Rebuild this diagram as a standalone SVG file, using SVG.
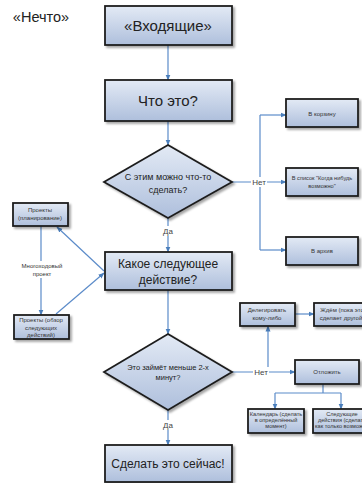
<svg xmlns="http://www.w3.org/2000/svg" width="362" height="483" viewBox="0 0 362 483">
<defs>
<linearGradient id="g" x1="0" y1="0" x2="0" y2="1">
<stop offset="0" stop-color="#e3eaf5"/>
<stop offset="1" stop-color="#aebfdc"/>
</linearGradient>
<filter id="sh" x="-10%" y="-10%" width="130%" height="140%">
<feDropShadow dx="2" dy="2" stdDeviation="1.2" flood-color="#000" flood-opacity="0.35"/>
</filter>
<marker id="ar" markerWidth="6" markerHeight="6" refX="5.5" refY="3" orient="auto" markerUnits="userSpaceOnUse">
<path d="M0,0.5 L6,3 L0,5.5 Z" fill="#4a7ebb"/>
</marker>
<style>
.box{fill:url(#g);stroke:#1e1e1e;stroke-width:1.8;filter:url(#sh)}
.c{fill:none;stroke:#5b8bc9;stroke-width:1.2}
.a{marker-end:url(#ar)}
text{font-family:"Liberation Sans",Arial,sans-serif;text-anchor:middle;fill:#222}
.big{font-size:15px}
.mid{font-size:12px}
.s{font-size:6px;fill:#333}
.xs{font-size:5.6px;fill:#333}
.lbl{font-size:8px;fill:#444}
.bg{fill:#fff}
</style>
</defs>
<rect width="362" height="483" fill="#fff"/>
<text x="41" y="22" style="font-size:14.5px;text-anchor:middle">«Нечто»</text>

<g id="connectors">
<path class="c a" d="M168,45 V80"/>
<path class="c a" d="M168,121 V145"/>
<path class="c a" d="M168,218 V252"/>
<path class="c a" d="M232,182 H286"/>
<path class="c" d="M260,115 V250"/>
<path class="c a" d="M260,115 H286"/>
<path class="c a" d="M260,250 H286"/>
<path class="c a" d="M104,271 L57,227"/>
<path class="c a" d="M56,314 L104,273"/>
<path class="c a" d="M41,226 V315"/>
<path class="c a" d="M168,290 V334"/>
<path class="c a" d="M168,410 V445"/>
<path class="c a" d="M232,372 H295"/>
<path class="c a" d="M268,372 V326"/>
<path class="c a" d="M295,314 H314"/>
<path class="c" d="M323,384 V393 M275,393 H341"/>
<path class="c a" d="M275,393 V409"/>
<path class="c a" d="M341,393 V409"/>
<rect class="bg" x="161" y="226" width="14" height="10"/>
<text class="lbl" x="168" y="234">Да</text>
<rect class="bg" x="251" y="177" width="16" height="10"/>
<text class="lbl" x="259" y="185">Нет</text>
<rect class="bg" x="161" y="420" width="14" height="10"/>
<text class="lbl" x="168" y="428">Да</text>
<rect class="bg" x="253" y="367" width="16" height="10"/>
<text class="lbl" x="261" y="375">Нет</text>
<rect class="bg" x="20" y="261" width="44" height="17"/>
<text class="s" x="42" y="268">Многоходовый</text>
<text class="s" x="42" y="276">проект</text>
</g>

<g id="inbox"><rect class="box" x="105" y="6" width="127" height="39"/><text class="big" x="168" y="31">«Входящие»</text></g>
<g id="what"><rect class="box" x="105" y="80" width="127" height="41"/><text class="big" x="168" y="106">Что это?</text></g>
<g id="actionable"><path class="box" d="M168,145 L232,182 L168,218 L104,182 Z"/><text x="168" y="180" style="font-size:9px">С этим можно что-то</text><text x="168" y="193" style="font-size:9px">сделать?</text></g>
<g id="trash"><rect class="box" x="286" y="99" width="72" height="28"/><text class="s" x="322" y="116">В корзину</text></g>
<g id="someday"><rect class="box" x="286" y="168" width="72" height="28"/><text class="xs" x="322" y="180">В список "Когда нибудь</text><text class="xs" x="322" y="188">возможно"</text></g>
<g id="archive"><rect class="box" x="286" y="237" width="72" height="28"/><text class="s" x="322" y="253">В архив</text></g>
<g id="projplan"><rect class="box" x="13" y="203" width="55" height="23"/><text class="s" x="40" y="212">Проекты</text><text class="s" x="40" y="220">(планирование)</text></g>
<g id="projreview"><rect class="box" x="14" y="315" width="55" height="24"/><text class="s" x="41" y="322">Проекты (обзор</text><text class="s" x="41" y="330">следующих</text><text class="s" x="41" y="337">действий)</text></g>
<g id="next"><rect class="box" x="105" y="252" width="127" height="38"/><text class="mid" x="168" y="268">Какое следующее</text><text class="mid" x="168" y="284">действие?</text></g>
<g id="twomin"><path class="box" d="M168,334 L232,372 L168,410 L104,372 Z"/><text x="168" y="370" style="font-size:7.5px">Это займёт меньше 2-х</text><text x="168" y="380" style="font-size:7.5px">минут?</text></g>
<g id="delegate"><rect class="box" x="240" y="303" width="55" height="23"/><text class="s" x="267" y="312">Делегировать</text><text class="s" x="267" y="320">кому-либо</text></g>
<g id="wait"><rect class="box" x="314" y="303" width="58" height="23"/><text class="s" x="342" y="312">Ждём (пока это</text><text class="s" x="342" y="320">сделает другой)</text></g>
<g id="defer"><rect class="box" x="295" y="360" width="64" height="24"/><text class="s" x="327" y="374">Отложить</text></g>
<g id="calendar"><rect class="box" x="248" y="409" width="56" height="24"/><text class="xs" x="276" y="416">Календарь (сделать</text><text class="xs" x="276" y="422">в определённый</text><text class="xs" x="276" y="428">момент)</text></g>
<g id="nextactions"><rect class="box" x="313" y="409" width="58" height="24"/><text class="xs" x="342" y="416">Следующие</text><text class="xs" x="342" y="422">действия (сделать</text><text class="xs" x="342" y="428">как только возможно</text></g>
<g id="donow"><rect class="box" x="105" y="445" width="127" height="37"/><text class="mid" x="168" y="468">Сделать это сейчас!</text></g>
</svg>
